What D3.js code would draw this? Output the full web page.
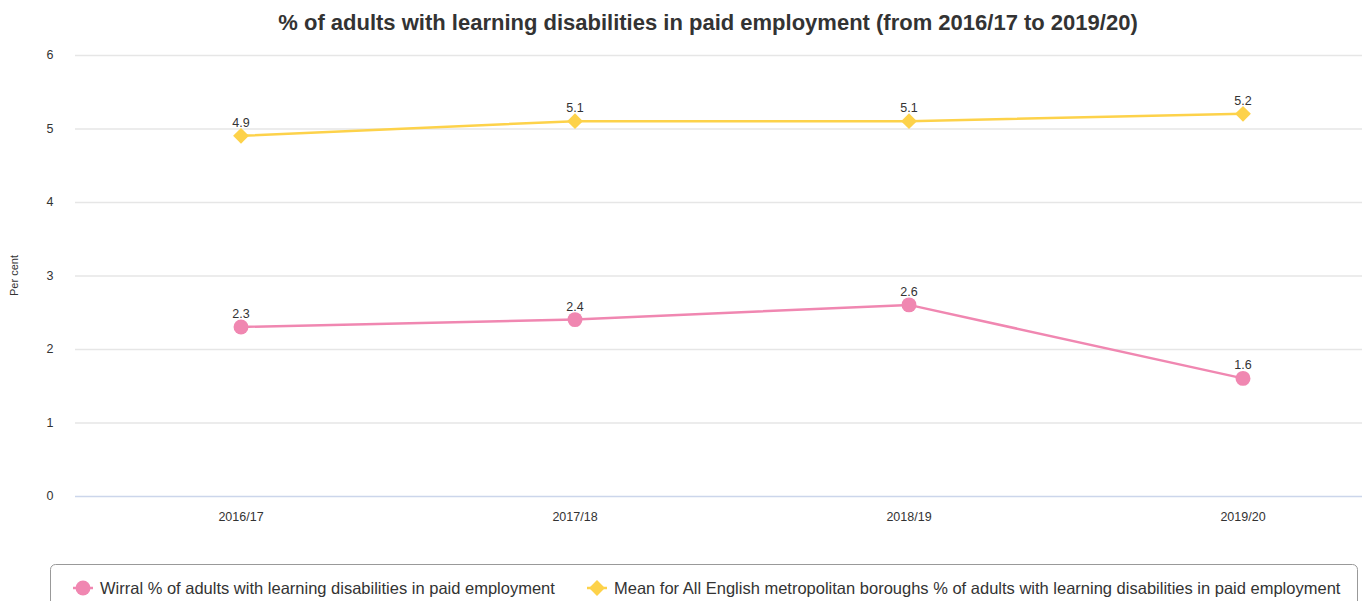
<!DOCTYPE html>
<html>
<head>
<meta charset="utf-8">
<script src="https://cdn.jsdelivr.net/npm/d3@7"></script>
<style>
  body { margin: 0; background: #fff; }
  svg { display: block; font-family: "Liberation Sans", Arial, sans-serif; }
</style>
</head>
<body>
<svg width="1372" height="601"></svg>
<script>
var years = ['2016/17', '2017/18', '2018/19', '2019/20'];
var wirral = [2.3, 2.4, 2.6, 1.6];
var mean = [4.9, 5.1, 5.1, 5.2];
var yTicks = [0, 1, 2, 3, 4, 5, 6];
var seriesNames = [
  'Wirral % of adults with learning disabilities in paid employment',
  'Mean for All English metropolitan boroughs % of adults with learning disabilities in paid employment'
];

var pink = '#f087b1',
  yellow = '#fdd24a';

var svg = d3.select('svg'),
  plotLeft = 75,
  plotRight = 1362,
  plotTop = 55,
  plotBottom = 496;

var x = d3.scalePoint().domain(years).range([241, 1243]),
  y = d3.scaleLinear().domain([0, 6]).range([plotBottom, plotTop]);

// square diamond like highcharts (d3's is tall)
var diamond = {
  draw: function(ctx, size) {
    var r = Math.sqrt(size) / 2;
    ctx.moveTo(0, -r);
    ctx.lineTo(r, 0);
    ctx.lineTo(0, r);
    ctx.lineTo(-r, 0);
    ctx.closePath();
  }
};

// title
svg.append('text')
  .attr('x', 708)
  .attr('y', 30)
  .attr('text-anchor', 'middle')
  .style('font-size', '22px')
  .style('font-weight', 'bold')
  .attr('fill', '#333')
  .text('% of adults with learning disabilities in paid employment (from 2016/17 to 2019/20)');

// grid
svg.append('g')
  .selectAll('line')
  .data(yTicks)
  .enter()
  .append('line')
  .attr('x1', plotLeft)
  .attr('x2', plotRight)
  .attr('y1', d => y(d) + 0.5)
  .attr('y2', d => y(d) + 0.5)
  .attr('stroke', d => (d === 0 ? '#ccd6eb' : '#e6e6e6'))
  .attr('stroke-width', 1.5);

// y labels
svg.append('g')
  .selectAll('text')
  .data(yTicks)
  .enter()
  .append('text')
  .attr('x', 50)
  .attr('y', d => y(d) + 4)
  .attr('text-anchor', 'middle')
  .style('font-size', '12.5px')
  .attr('fill', '#333')
  .text(d => d);

svg.append('text')
  .attr('transform', 'translate(18,' + (plotTop + plotBottom) / 2 + ') rotate(-90)')
  .attr('text-anchor', 'middle')
  .style('font-size', '11px')
  .attr('fill', '#333')
  .text('Per cent');

// x labels
svg.append('g')
  .selectAll('text')
  .data(years)
  .enter()
  .append('text')
  .attr('x', d => x(d))
  .attr('y', 521)
  .attr('text-anchor', 'middle')
  .style('font-size', '12.5px')
  .attr('fill', '#333')
  .text(d => d);

var line = d3.line()
  .x(d => x(d.year))
  .y(d => y(d.value));

var series = [
  {name: seriesNames[0], color: pink, shape: d3.symbolCircle, size: 175,
    values: years.map((yr, i) => ({year: yr, value: wirral[i]}))},
  {name: seriesNames[1], color: yellow, shape: diamond, size: 250,
    values: years.map((yr, i) => ({year: yr, value: mean[i]}))}
];

series.forEach(function(s) {
  var g = svg.append('g');
  g.append('path')
    .attr('d', line(s.values))
    .attr('fill', 'none')
    .attr('stroke', s.color)
    .attr('stroke-width', 2.5);
  g.selectAll('path.pt')
    .data(s.values)
    .enter()
    .append('path')
    .attr('class', 'pt')
    .attr('transform', d => 'translate(' + x(d.year) + ',' + y(d.value) + ')')
    .attr('d', d3.symbol().type(s.shape).size(s.size))
    .attr('fill', s.color);
  g.selectAll('text')
    .data(s.values)
    .enter()
    .append('text')
    .attr('x', d => x(d.year))
    .attr('y', d => y(d.value) - 9)
    .attr('text-anchor', 'middle')
    .style('font-size', '12.5px')
    .attr('fill', '#333')
    .attr('stroke', '#fff')
    .attr('stroke-width', 2)
    .attr('paint-order', 'stroke')
    .text(d => d.value.toFixed(1));
});

// legend
svg.append('rect')
  .attr('x', 50.5)
  .attr('y', 564.5)
  .attr('width', 1307)
  .attr('height', 60)
  .attr('rx', 5)
  .attr('fill', '#fff')
  .attr('stroke', '#999')
  .attr('stroke-width', 1);

var legendX = [73, 587];
series.forEach(function(s, i) {
  var lg = svg.append('g').attr('transform', 'translate(' + legendX[i] + ',588)');
  lg.append('line')
    .attr('x1', 0).attr('x2', 20)
    .attr('stroke', s.color)
    .attr('stroke-width', 2.5);
  lg.append('path')
    .attr('transform', 'translate(10,0)')
    .attr('d', d3.symbol().type(s.shape).size(s.size))
    .attr('fill', s.color);
  lg.append('text')
    .attr('x', 27)
    .attr('y', 6)
    .style('font-size', '16.5px')
    .attr('fill', '#333')
    .text(s.name);
});
</script>
</body>
</html>
